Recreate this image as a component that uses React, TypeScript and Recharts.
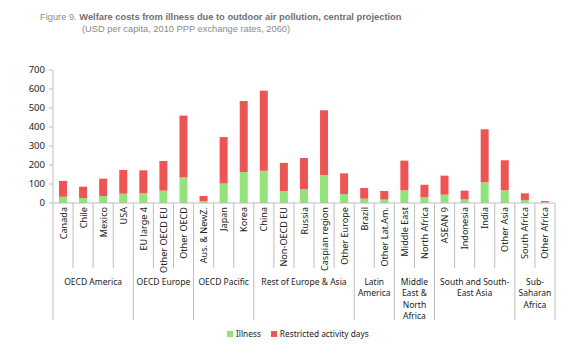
import React from 'react';
import { BarChart, Bar, XAxis, YAxis } from 'recharts';

const categories = [
  'Canada', 'Chile', 'Mexico', 'USA',
  'EU large 4', 'Other OECD EU', 'Other OECD',
  'Aus. & NewZ.', 'Japan', 'Korea',
  'China', 'Non-OECD EU', 'Russia', 'Caspian region', 'Other Europe',
  'Brazil', 'Other Lat.Am.',
  'Middle East', 'North Africa',
  'ASEAN 9', 'Indonesia', 'India', 'Other Asia',
  'South Africa', 'Other Africa',
];

const illness = [33, 26, 37, 49, 51, 65, 135, 10, 103, 163, 170, 63, 72, 147, 47, 23, 18, 67, 30, 44, 19, 109, 67, 16, 3];
const totals = [116, 86, 128, 174, 172, 221, 460, 37, 347, 537, 591, 211, 237, 488, 156, 79, 63, 223, 96, 144, 65, 388, 225, 51, 10];

const groups = [
  { lines: ['OECD America'], count: 4 },
  { lines: ['OECD Europe'], count: 3 },
  { lines: ['OECD Pacific'], count: 3 },
  { lines: ['Rest of Europe & Asia'], count: 5 },
  { lines: ['Latin', 'America'], count: 2 },
  { lines: ['Middle', 'East &', 'North', 'Africa'], count: 2 },
  { lines: ['South and South-', 'East Asia'], count: 4 },
  { lines: ['Sub-', 'Saharan', 'Africa'], count: 2 },
];

const yTicks = [0, 100, 200, 300, 400, 500, 600, 700];

const data = categories.map((name, i) => ({
  name,
  illness: illness[i],
  restricted: totals[i] - illness[i],
}));

const groupStarts: Record<number, { lines: string[]; count: number }> = {};
let acc = 0;
groups.forEach((g) => {
  groupStarts[acc] = g;
  acc += g.count;
});

const GREEN = '#93e27b';
const RED = '#ef5454';
const LINE = '#bdbdbd';
const FONT = '"Noto Sans", "Open Sans", sans-serif';

function CategoryTick(props: any) {
  const { x, y, payload, index } = props;
  const half = payload.offset || 10;
  const left = x - half;
  const g = groupStarts[index];
  const isLast = index === categories.length - 1;
  return (
    <g>
      <line x1={left} y1={y} x2={left} y2={y + (g ? 117 : 65)} stroke={LINE} />
      {isLast && <line x1={x + half} y1={y} x2={x + half} y2={y + 117} stroke={LINE} />}
      <text
        transform={`translate(${x + 3.5},${y + 4}) rotate(-90)`}
        textAnchor="end"
        fontSize={9.1}
        fill="#222"
        fontFamily={FONT}
      >
        {payload.value}
      </text>
      {g && (
        <text textAnchor="middle" fontSize={8.5} fill="#222" fontFamily={FONT}>
          {g.lines.map((l, k) => (
            <tspan key={k} x={left + g.count * half} y={y + 82 + k * 11.3}>
              {l}
            </tspan>
          ))}
        </text>
      )}
    </g>
  );
}

export default function App() {
  return (
    <div style={{ position: 'absolute', left: 0, top: 0, width: 568, height: 353, background: '#fff' }}>
      <div
        style={{
          position: 'absolute', left: 40, top: 12, fontFamily: '"Liberation Sans", Arial, sans-serif',
          fontSize: 9.3, color: '#8a8a8a', whiteSpace: 'nowrap',
        }}
      >
        Figure 9. <b style={{ color: '#6f6f6f' }}>Welfare costs from illness due to outdoor air pollution, central projection</b>
      </div>
      <div
        style={{
          position: 'absolute', left: 82, top: 24, fontFamily: '"Liberation Sans", Arial, sans-serif',
          fontSize: 9.3, color: '#8a8a8a', whiteSpace: 'nowrap',
        }}
      >
        (USD per capita, 2010 PPP exchange rates, 2060)
      </div>
      <BarChart
        width={568}
        height={353}
        data={data}
        margin={{ top: 70, right: 13, left: 0, bottom: 0 }}
        barSize={8}
      >
        <XAxis
          dataKey="name"
          interval={0}
          height={150}
          tickLine={false}
          tickSize={0}
          tickMargin={0}
          axisLine={{ stroke: LINE }}
          tick={<CategoryTick />}
        />
        <YAxis
          width={53}
          domain={[0, 700]}
          ticks={yTicks}
          interval={0}
          axisLine={{ stroke: LINE }}
          tickLine={{ stroke: LINE }}
          tickSize={4}
          tickMargin={4}
          tick={{ fontSize: 9.5, fill: '#222', fontFamily: FONT }}
        />
        <Bar dataKey="illness" name="Illness" stackId="a" fill={GREEN} isAnimationActive={false} />
        <Bar dataKey="restricted" name="Restricted activity days" stackId="a" fill={RED} isAnimationActive={false} />
      </BarChart>
      <div
        style={{
          position: 'absolute', left: 227, top: 328, display: 'flex', alignItems: 'center',
          fontFamily: FONT, fontSize: 8.3, color: '#222', whiteSpace: 'nowrap',
        }}
      >
        <span style={{ width: 6, height: 6, background: GREEN, display: 'inline-block', marginRight: 3 }} />
        <span style={{ marginRight: 10 }}>Illness</span>
        <span style={{ width: 6, height: 6, background: RED, display: 'inline-block', marginRight: 3 }} />
        <span>Restricted activity days</span>
      </div>
    </div>
  );
}
